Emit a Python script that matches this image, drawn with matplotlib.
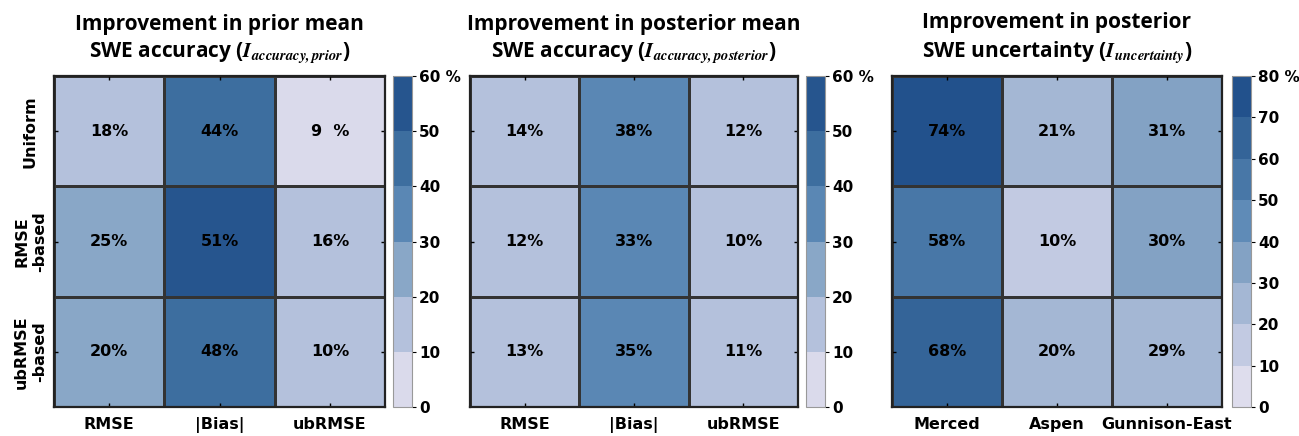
import numpy as np
import matplotlib
matplotlib.use("Agg")
import matplotlib.pyplot as plt
from matplotlib.colors import LinearSegmentedColormap, ListedColormap, BoundaryNorm

plt.rcParams['font.family'] = ['DejaVu Sans']
plt.rcParams['font.weight'] = 'bold'
plt.rcParams['mathtext.fontset'] = 'stix'

# --- data ---
metrics = ['RMSE', '|Bias|', 'ubRMSE']
sites = ['Merced', 'Aspen', 'Gunnison-East']
schemes = ['Uniform', 'RMSE\n-based', 'ubRMSE\n-based']

prior_acc = [[18, 44, 9],
             [25, 51, 16],
             [20, 48, 10]]
post_acc = [[14, 38, 12],
            [12, 33, 10],
            [13, 35, 11]]
post_unc = [[74, 21, 31],
            [58, 10, 30],
            [68, 20, 29]]

titles = ['Improvement in prior mean\nSWE accuracy ($\\mathbfit{I_{accuracy,prior}}$)',
          'Improvement in posterior mean\nSWE accuracy ($\\mathbfit{I_{accuracy,posterior}}$)',
          'Improvement in posterior\nSWE uncertainty ($\\mathbfit{I_{uncertainty}}$)']

base = LinearSegmentedColormap.from_list(
    'swe', [(0.0, '#ece7f3'), (0.25, '#b4c1dc'), (0.42, '#88a6c6'),
            (0.58, '#5b88b5'), (0.75, '#3d6e9f'), (1.0, '#1a4886')])

fig = plt.figure(figsize=(12.99, 4.36), dpi=100)

# axes [left, width] in figure fraction
ax_pos = [(0.0416, 0.2548), (0.3618, 0.2525), (0.6867, 0.2540)]
cb_pos = [0.3025, 0.6205, 0.9484]
bottom, height = 0.0665, 0.759

panels = [(prior_acc, 60, metrics, True),
          (post_acc, 60, metrics, False),
          (post_unc, 80, sites, False)]

for i, (vals, vmax, xlabels, show_y) in enumerate(panels):
    vals = np.array(vals)
    nb = vmax // 10
    cmap = ListedColormap(base((np.arange(nb) + 0.5) / nb))
    bounds = np.arange(0, vmax + 1, 10)
    norm = BoundaryNorm(bounds, cmap.N)

    ax = fig.add_axes([ax_pos[i][0], bottom, ax_pos[i][1], height])
    mesh = ax.pcolormesh(vals, cmap=cmap, norm=norm, edgecolors='#333333', linewidth=0.8)
    ax.set_xlim(0, 3)
    ax.set_ylim(3, 0)
    for r in range(3):
        for c in range(3):
            v = vals[r, c]
            txt = f'{v}%' if v >= 10 else f'{v}  %'
            ax.text(c + 0.5, r + 0.5, txt, ha='center', va='center',
                    fontsize=11.5, fontweight='bold', color='black')
    ax.set_xticks(np.arange(3) + 0.5)
    ax.set_xticklabels(xlabels, fontsize=11.5, fontweight='bold')
    ax.set_yticks(np.arange(3) + 0.5)
    if show_y:
        ax.set_yticklabels(schemes, fontsize=11.5, fontweight='bold',
                           rotation=90, va='center', ha='center', multialignment='center')
        ax.tick_params(axis='y', pad=17)
    else:
        ax.set_yticklabels([])
    ax.tick_params(direction='in', length=3, width=1, top=True, right=True)
    ax.tick_params(axis='x', pad=7)
    for s in ax.spines.values():
        s.set_linewidth(1.6)
        s.set_color('#222222')
    ax.set_title(titles[i], fontsize=15, fontweight='bold', family='Open Sans',
                 linespacing=1.35, pad=13)

    cax = fig.add_axes([cb_pos[i], bottom, 0.0148, height])
    cb = fig.colorbar(mesh, cax=cax, ticks=bounds)
    labels = [str(b) for b in bounds]
    labels[-1] = f'{vmax} %'
    cb.ax.set_yticklabels(labels, fontsize=11, fontweight='bold')
    cb.ax.tick_params(length=3, width=0.8, direction='out', pad=2)
    cb.outline.set_linewidth(0.8)
    cb.outline.set_edgecolor('#999999')

fig.savefig('out.png', dpi=100)
